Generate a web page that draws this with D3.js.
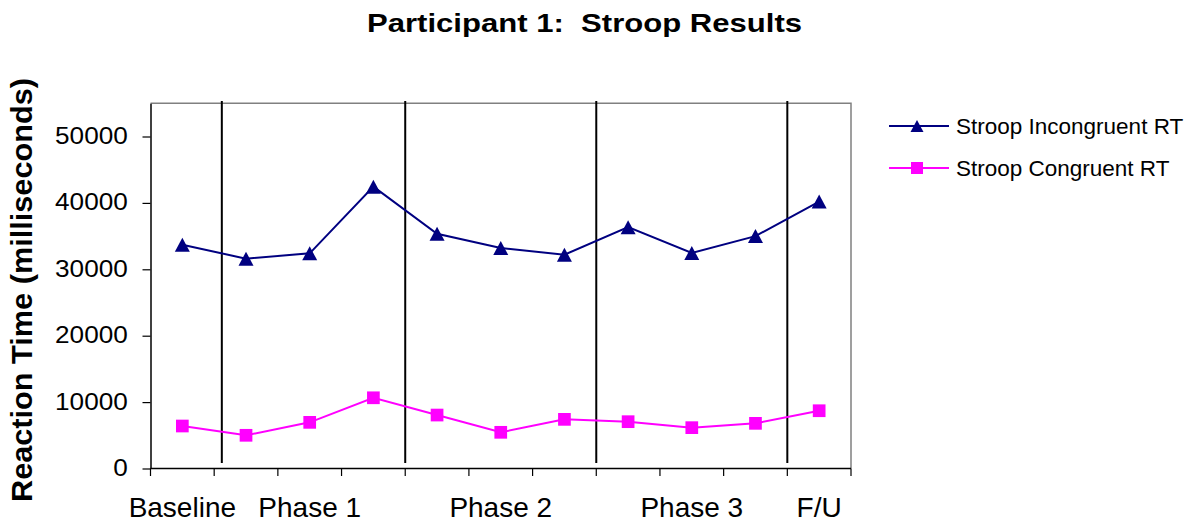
<!DOCTYPE html>
<html>
<head>
<meta charset="utf-8">
<script src="https://cdn.jsdelivr.net/npm/d3@7"></script>
<style>
  html, body { margin: 0; padding: 0; background: #fff; }
  svg { display: block; font-family: "Liberation Sans", Arial, sans-serif; }
</style>
</head>
<body>
<svg id="chart" width="1201" height="525"></svg>
<script>
// Sessions across the study (only some carry a label on the axis)
const sessions = ["Baseline", "", "Phase 1", "", "", "Phase 2", "", "", "Phase 3", "", "F/U"];
// Reaction times in milliseconds, one per session
const incongruentRT = [33700, 31600, 32400, 42450, 35350, 33200, 32200, 36350, 32450, 35000, 40200];
const congruentRT   = [6400, 5000, 6950, 10650, 8050, 5450, 7400, 7050, 6150, 6800, 8700];
// Phase boundaries, in session-index units along the x axis
const phaseBreaks = [1.12, 4, 7, 10];
const yTicks = [0, 10000, 20000, 30000, 40000, 50000];
const seriesNames = ["Stroop Incongruent RT", "Stroop Congruent RT"];
const titleText = "Participant 1:  Stroop Results";
const yLabel = "Reaction Time (milliseconds)";

const svg = d3.select("#chart");
const plotL = 150.5, plotR = 851, plotT = 103.3, plotB = 468.5;

const y = d3.scaleLinear().domain([0, 55000]).range([plotB, plotT]);
const xb = d3.scaleLinear().domain([0, sessions.length]).range([plotL, plotR]);
const xc = i => xb(i + 0.5);

// Title
svg.append("text")
  .attr("x", 584.5).attr("y", 31.7)
  .attr("text-anchor", "middle")
  .attr("font-size", 25).attr("font-weight", "bold")
  .attr("textLength", 435).attr("lengthAdjust", "spacingAndGlyphs")
  .style("white-space", "pre")
  .text(titleText);

// Y axis title
svg.append("text")
  .attr("transform", "translate(32,290) rotate(-90)")
  .attr("text-anchor", "middle")
  .attr("font-size", 29).attr("font-weight", "bold")
  .attr("textLength", 424).attr("lengthAdjust", "spacingAndGlyphs")
  .text(yLabel);

// Plot frame: top and right edges
svg.append("path")
  .attr("d", `M${plotL},${plotT}H${plotR}V${plotB}`)
  .attr("fill", "none").attr("stroke", "#808080").attr("stroke-width", 1.5);

// Y axis
const yAxis = svg.append("g")
  .attr("transform", `translate(${plotL},0)`)
  .call(d3.axisLeft(y).tickValues(yTicks).tickSize(8).tickSizeOuter(0).tickPadding(14.7).tickFormat(d3.format("d")));
yAxis.select(".domain").attr("stroke", "#000").attr("stroke-width", 1.5);
yAxis.selectAll(".tick line").attr("stroke", "#000").attr("stroke-width", 1.2);
yAxis.selectAll(".tick text")
  .attr("font-size", 24).attr("fill", "#000")
  .attr("font-family", "Liberation Sans, Arial, sans-serif")
  .attr("dy", "0.29em")
  .attr("lengthAdjust", "spacingAndGlyphs")
  .attr("textLength", function () { return this.getComputedTextLength() * 1.09; });

// X axis: line, boundary ticks and session labels
const xAxis = svg.append("g");
xAxis.append("line")
  .attr("x1", plotL).attr("x2", plotR).attr("y1", plotB).attr("y2", plotB)
  .attr("stroke", "#000").attr("stroke-width", 1.5);
xAxis.selectAll("line.tick")
  .data(d3.range(sessions.length + 1))
  .join("line").attr("class", "tick")
  .attr("x1", d => xb(d)).attr("x2", d => xb(d))
  .attr("y1", plotB).attr("y2", plotB + 7.5)
  .attr("stroke", "#000").attr("stroke-width", 1.2);
xAxis.selectAll("text")
  .data(sessions)
  .join("text")
  .attr("x", (d, i) => xc(i)).attr("y", 517.3)
  .attr("text-anchor", "middle")
  .attr("font-size", 28)
  .text(d => d);

// Phase change lines
svg.selectAll("line.phase")
  .data(phaseBreaks)
  .join("line").attr("class", "phase")
  .attr("x1", d => xb(d)).attr("x2", d => xb(d))
  .attr("y1", plotT - 2.3).attr("y2", plotB - 5.5)
  .attr("stroke", "#000").attr("stroke-width", 2);

// Marker shapes
const triPath = (w, h) => `M0,${-h / 2}L${w / 2},${h / 2}L${-w / 2},${h / 2}Z`;
const sqPath = s => `M${-s / 2},${-s / 2}h${s}v${s}h${-s}Z`;

const series = [
  { name: seriesNames[0], values: incongruentRT, color: "#000080", marker: triPath(15, 14), legendMarker: triPath(13, 12) },
  { name: seriesNames[1], values: congruentRT, color: "#FF00FF", marker: sqPath(12.7), legendMarker: sqPath(12) }
];

const line = d3.line().x((d, i) => xc(i)).y(d => y(d));

series.forEach(s => {
  svg.append("path")
    .attr("d", line(s.values))
    .attr("fill", "none").attr("stroke", s.color).attr("stroke-width", 2);
  svg.append("g").selectAll("path")
    .data(s.values)
    .join("path")
    .attr("transform", (d, i) => `translate(${xc(i)},${y(d)})`)
    .attr("d", s.marker)
    .attr("fill", s.color);
});

// Legend
const legend = svg.append("g").attr("transform", "translate(889,126)");
series.forEach((s, k) => {
  const g = legend.append("g").attr("transform", `translate(0,${k * 42})`);
  g.append("line").attr("x1", 0).attr("x2", 60).attr("y1", 0).attr("y2", 0)
    .attr("stroke", s.color).attr("stroke-width", 2);
  g.append("path").attr("transform", "translate(28,0)").attr("d", s.legendMarker).attr("fill", s.color);
  g.append("text").attr("x", 67).attr("y", 8)
    .attr("font-size", 22.5).text(s.name);
});
</script>
</body>
</html>
